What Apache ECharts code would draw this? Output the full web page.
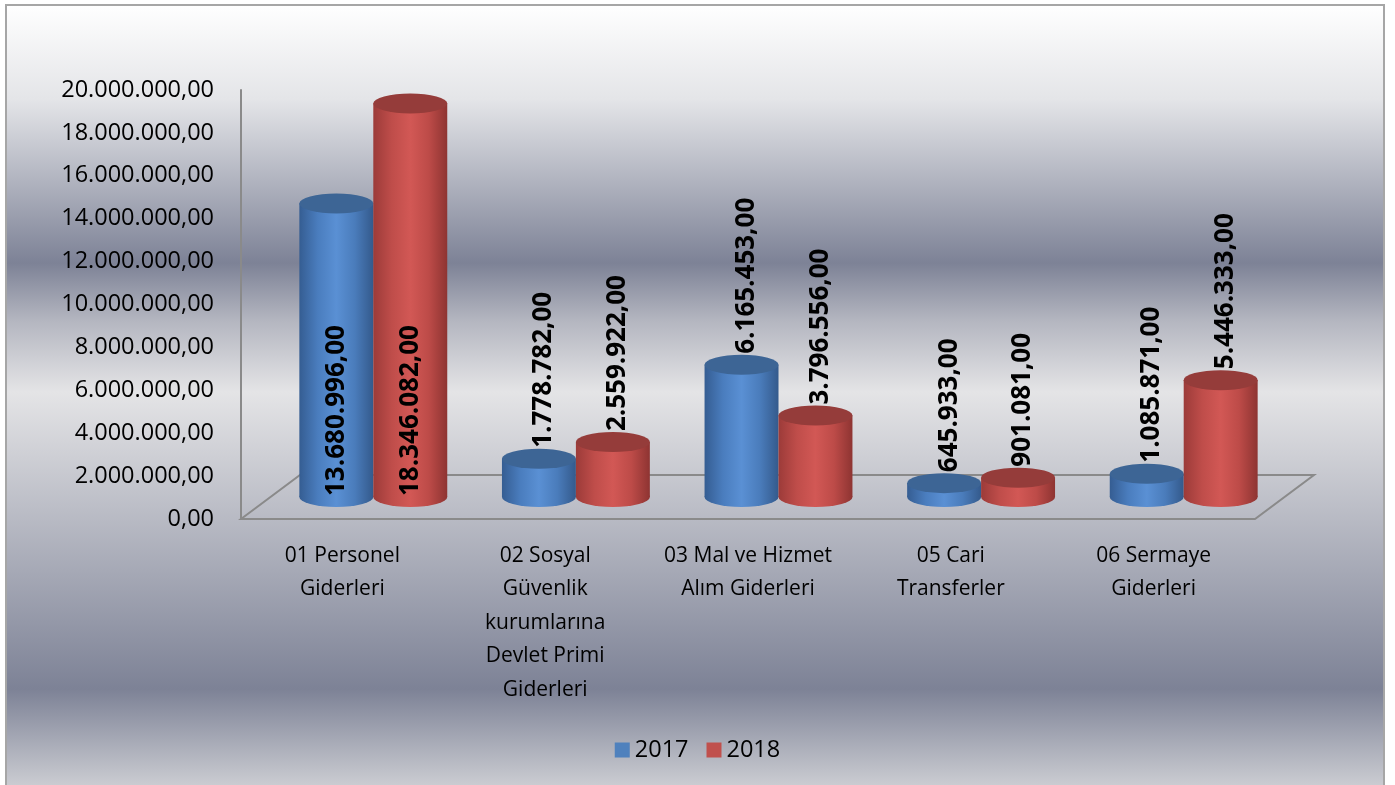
<!DOCTYPE html>
<html>
<head>
<meta charset="utf-8">
<script src="https://cdn.jsdelivr.net/npm/echarts@6/dist/echarts.min.js"></script>
<style>
html,body{margin:0;padding:0;background:#fff;}
#c{width:1395px;height:785px;}
</style>
</head>
<body>
<div id="c"></div>
<script>
const categories = [
  "01 Personel\nGiderleri",
  "02 Sosyal\nGüvenlik\nkurumlarına\nDevlet Primi\nGiderleri",
  "03 Mal ve Hizmet\nAlım Giderleri",
  "05 Cari\nTransferler",
  "06 Sermaye\nGiderleri"
];
const seriesNames = ["2017", "2018"];
const values2017 = [13680996, 1778782, 6165453, 645933, 1085871];
const values2018 = [18346082, 2559922, 3796556, 901081, 5446333];
const yMin = 0, yMax = 20000000, yStep = 2000000;

function fmt(v) {
  const s = Math.round(v).toString().replace(/\B(?=(\d{3})+(?!\d))/g, '.');
  return s + ',00';
}

const FONT = '"Open Sans", "Noto Sans", sans-serif';
const palettes = [
  { legend: '#4f81bd', side: ['#355d92', '#4a7dbe', '#5a90d4', '#4a7cbb', '#345a8c'], top: '#3d6595' },
  { legend: '#c0504d', side: ['#9c3b39', '#bf4d4a', '#d25855', '#bd4b48', '#8e3432'], top: '#953c3a' }
];

function lin(colors) {
  return {
    type: 'linear', x: 0, y: 0, x2: 1, y2: 0,
    colorStops: colors.map((c, i) => ({ offset: i / (colors.length - 1), color: c }))
  };
}

function makeCylinder(k) {
  const pal = palettes[k];
  return function (params, api) {
    const idx = api.value(0), val = api.value(1);
    const top = api.coord([idx, val]);
    const base = api.coord([idx, 0]);
    const ceil = api.coord([idx, yMax]);
    const bw = api.size([1, 0])[0];
    const w = bw * 0.365;
    const cx = top[0] + (k - 0.5) * w;
    const ry = w * 0.135;
    const sy = (2 * ry) / w;
    const side = lin(pal.side);
    const label = fmt(val);
    const labelLen = label.length * 14.3;
    let ly, lx = cx;
    if (top[1] - ry - 4 - labelLen < ceil[1]) {
      ly = base[1] - 1;
    } else {
      ly = top[1] - ry - 1;
      lx = cx + 5;
    }
    return {
      type: 'group',
      children: [
        { type: 'circle', shape: { cx: 0, cy: 0, r: w / 2 }, x: cx, y: base[1], scaleY: sy, style: { fill: side } },
        { type: 'rect', shape: { x: cx - w / 2, y: top[1], width: w, height: base[1] - top[1] }, style: { fill: side } },
        { type: 'circle', shape: { cx: 0, cy: 0, r: w / 2 }, x: cx, y: top[1], scaleY: sy, style: { fill: pal.top } },
        { type: 'text', x: lx, y: ly, rotation: Math.PI / 2,
          style: { text: label, fill: '#000', fontSize: 26, fontWeight: 'bold', fontFamily: FONT, align: 'left', verticalAlign: 'middle' } }
      ]
    };
  };
}

function renderFloor(params, api) {
  const bw = api.size([1, 0])[0];
  const a = api.coord([0, 0]);
  const b = api.coord([categories.length - 1, 0]);
  const left = a[0] - bw / 2, right = b[0] + bw / 2, y0 = a[1];
  const dx = 59, dy = 44;
  return {
    type: 'polygon',
    shape: { points: [[left, y0], [left + dx, y0 - dy], [right + dx, y0 - dy], [right, y0]] },
    style: { fill: 'none', stroke: '#8a8a8a', lineWidth: 2 }
  };
}

const chart = echarts.init(document.getElementById('c'), null, { renderer: 'canvas' });
chart.setOption({
  animation: false,
  graphic: [
    { type: 'rect', z: -10, shape: { x: 6, y: 5, width: 1378, height: 790 },
      style: { fill: { type: 'linear', x: 0, y: 0, x2: 0, y2: 1, colorStops: [
        { offset: 0, color: '#ffffff' },
        { offset: 0.12, color: '#e4e5e8' },
        { offset: 0.327, color: '#7d8296' },
        { offset: 0.40, color: '#b4b6c0' },
        { offset: 0.49, color: '#e4e4e6' },
        { offset: 0.865, color: '#7d8296' },
        { offset: 1, color: '#d3d4d8' }
      ] }, stroke: '#a6a6a6', lineWidth: 2 } }
  ],
  legend: {
    data: seriesNames,
    top: 733, left: 'center',
    icon: 'rect', itemWidth: 15, itemHeight: 15, itemGap: 18,
    textStyle: { fontSize: 23.5, fontFamily: FONT, color: '#000' }
  },
  grid: [
    { left: 241, right: 140, top: 90, bottom: 266 },
    { left: 272, right: 110, top: 68, bottom: 288 }
  ],
  xAxis: [
    { type: 'category', gridIndex: 0, data: categories,
      axisLine: { show: false }, axisTick: { show: false }, splitLine: { show: false },
      axisLabel: { interval: 0, margin: 20, fontSize: 21, lineHeight: 33.5, fontFamily: FONT, color: '#000', align: 'center' } },
    { type: 'category', gridIndex: 1, data: categories, show: false }
  ],
  yAxis: [
    { type: 'value', gridIndex: 0, min: yMin, max: yMax, interval: yStep,
      axisLine: { show: true, lineStyle: { color: '#8a8a8a', width: 2 } },
      axisTick: { show: false }, splitLine: { show: false },
      axisLabel: { margin: 27, fontSize: 23.5, fontFamily: FONT, color: '#000', formatter: v => fmt(v) } },
    { type: 'value', gridIndex: 1, min: yMin, max: yMax, show: false, splitLine: { show: false } }
  ],
  series: [
    { type: 'custom', name: 'floor', xAxisIndex: 0, yAxisIndex: 0, renderItem: renderFloor, data: [[0, 0]], silent: true, z: 1 },
    { type: 'custom', name: seriesNames[0], xAxisIndex: 1, yAxisIndex: 1, renderItem: makeCylinder(0),
      itemStyle: { color: palettes[0].legend }, data: values2017.map((v, i) => [i, v]), z: 2 },
    { type: 'custom', name: seriesNames[1], xAxisIndex: 1, yAxisIndex: 1, renderItem: makeCylinder(1),
      itemStyle: { color: palettes[1].legend }, data: values2018.map((v, i) => [i, v]), z: 3 }
  ]
});
</script>
</body>
</html>
